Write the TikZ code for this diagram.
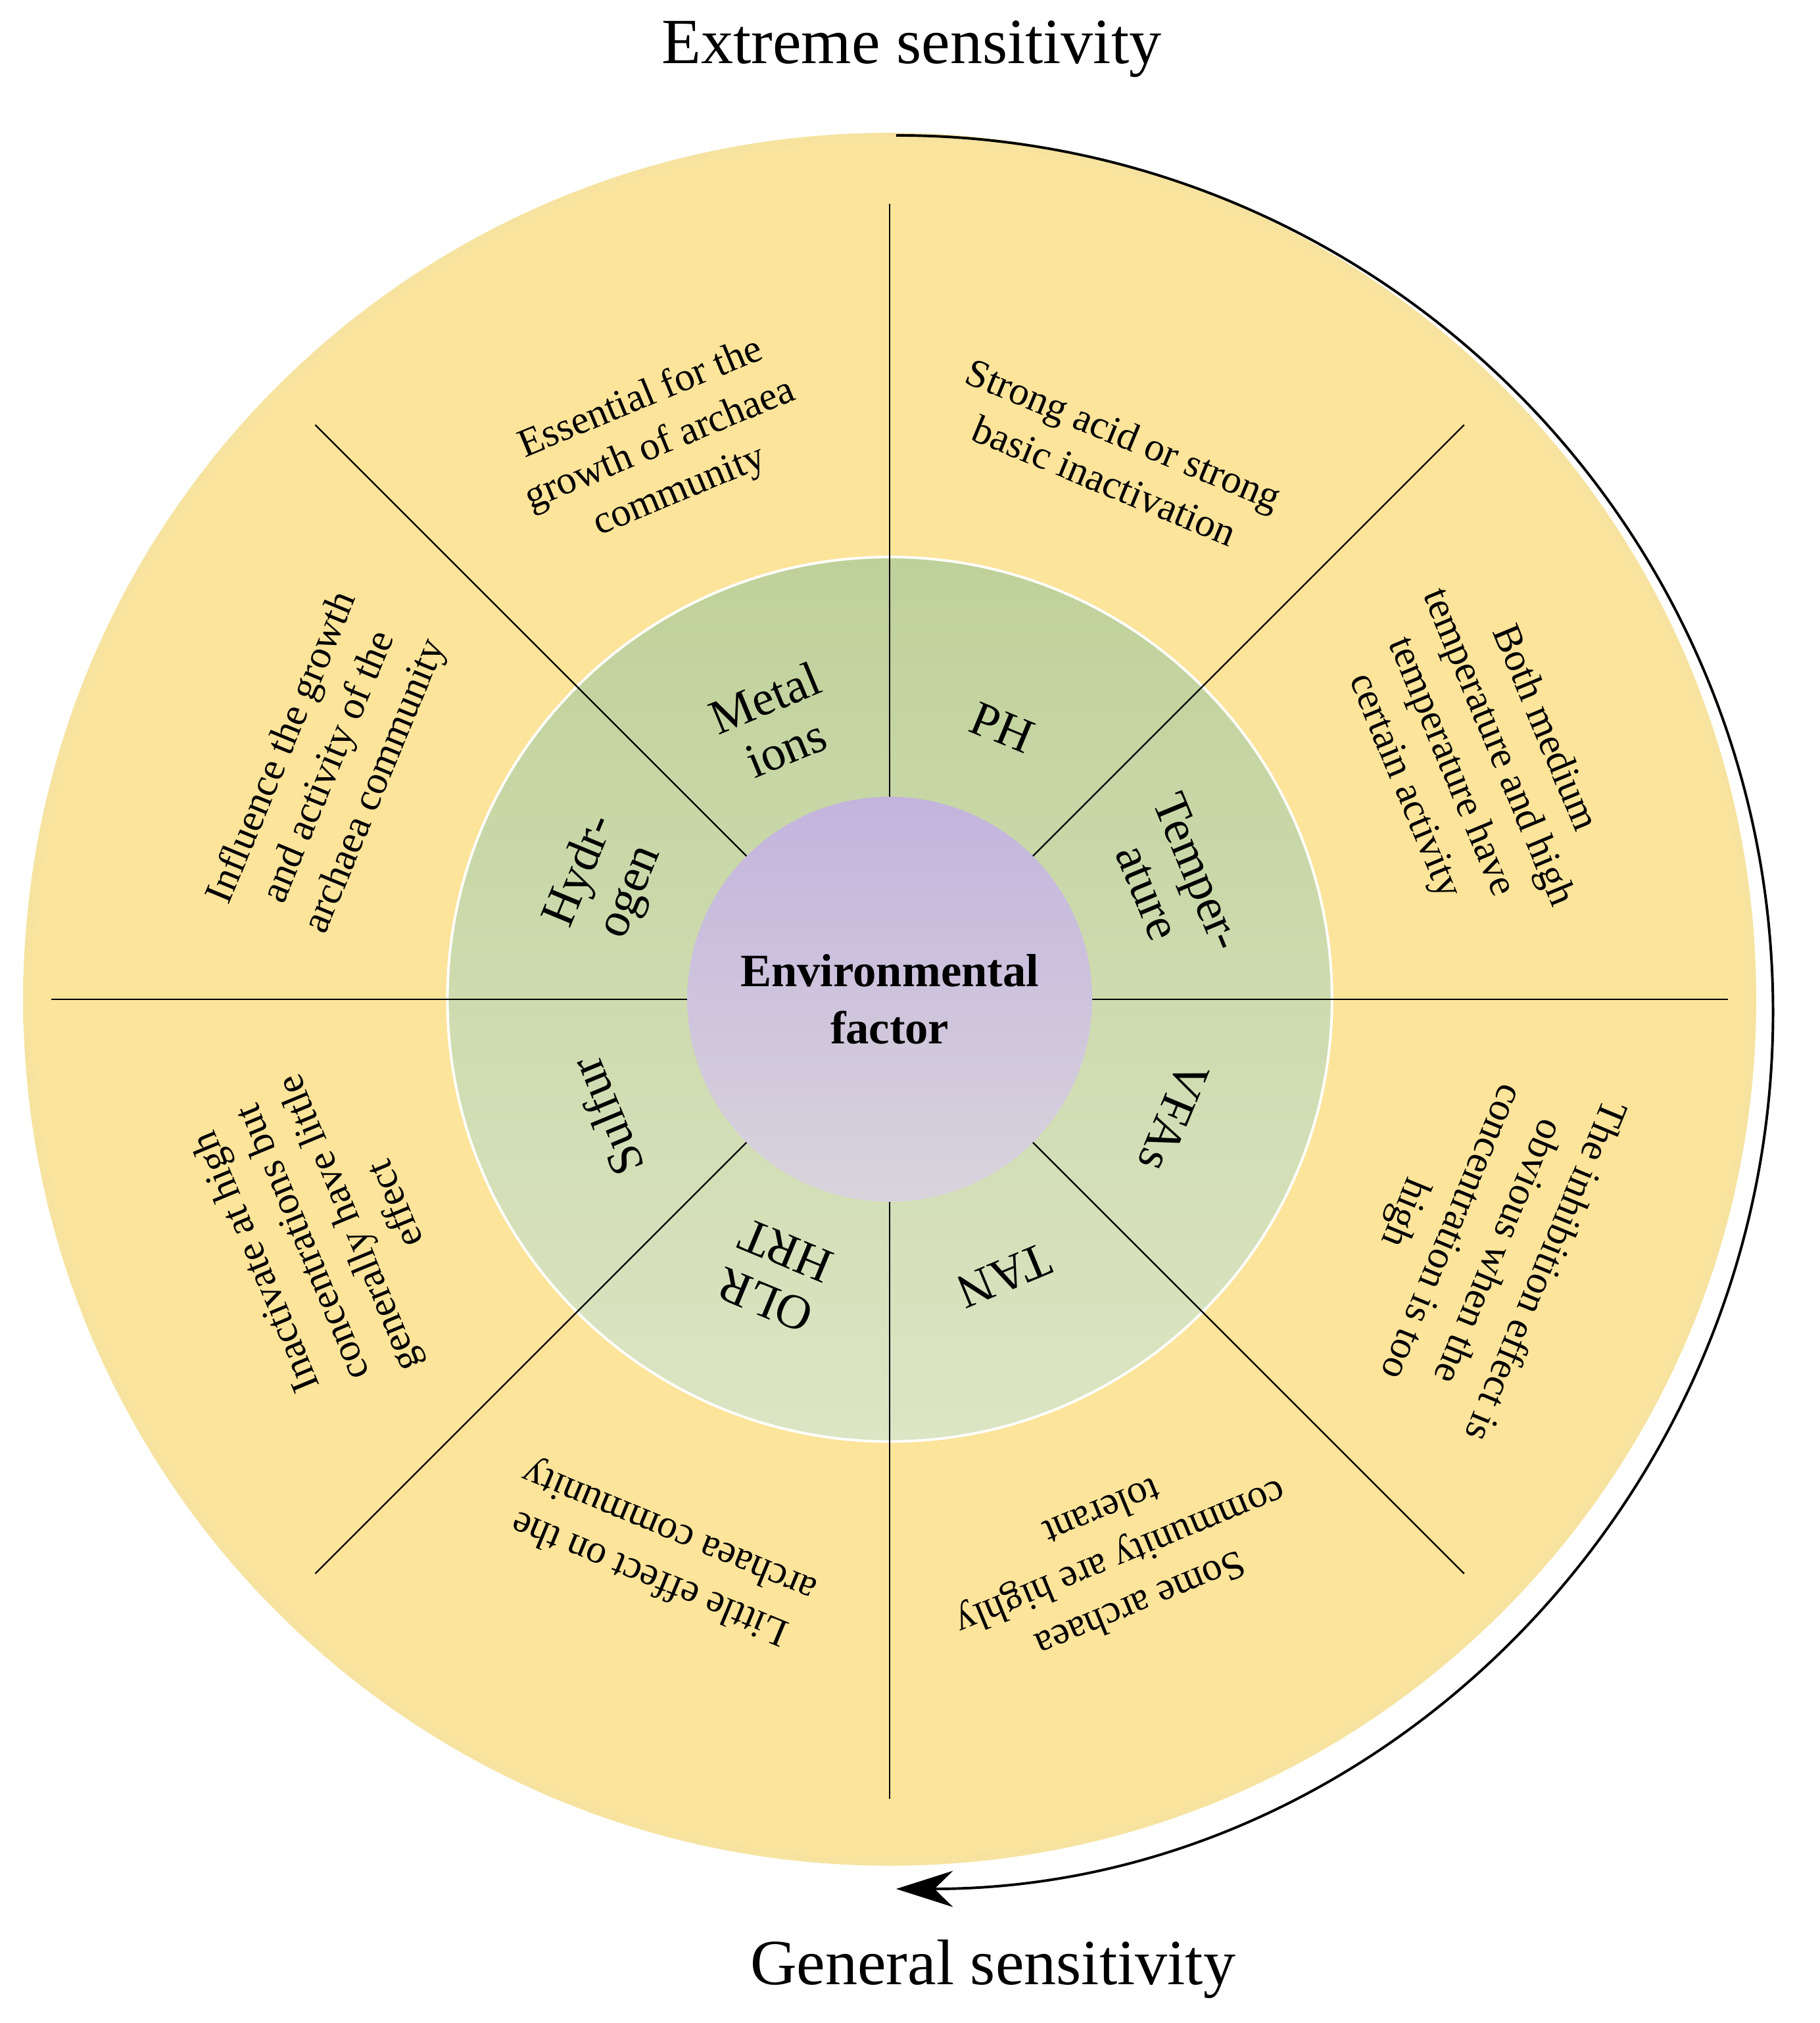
\documentclass[tikz,border=0pt]{standalone}
\usepackage{fontspec}
\setmainfont{Liberation Serif}
\usetikzlibrary{arrows.meta}
\definecolor{yel}{HTML}{FDE49B}
\definecolor{grn}{HTML}{D7E0B3}
\definecolor{grn2}{HTML}{DCE3BE}
\definecolor{mdark}{HTML}{BFD19A}
\definecolor{mlight}{HTML}{DCE5C4}
\definecolor{pdark}{HTML}{C3B4DD}
\definecolor{plight}{HTML}{D9D4DC}
\pgfdeclareradialshading{outerg}{\pgfpoint{0bp}{0bp}}{color(0bp)=(yel); color(24.5bp)=(yel); color(27bp)=(grn); color(28.5bp)=(grn2); color(50bp)=(grn2)}
\tikzset{
  div/.style={line width=0.6pt, black},
  midlab/.style={font=\fontsize{19}{21}\selectfont, align=center},
  outlab/.style={font=\fontsize{15.5}{19.5}\selectfont, align=center},
}
\begin{document}
\begin{tikzpicture}[x=0.5pt,y=0.5pt]
\useasboundingbox (-690,-794) rectangle (721,775);
\shade[shading=outerg] (0,0) circle (672);
\shade[shading angle=45, top color=mdark, bottom color=mlight, draw=white, line width=1pt] (0,0) circle (343);
% dividers
\foreach \a/\r in {90/617,45/630,0/650,-45/630,-90/620,-135/630,180/650,135/630}{
  \coordinate (s\a) at (\a:157);
  \coordinate (e\a) at (\a:\r);
  \draw[div] (s\a) -- (e\a);
}
\shade[shading angle=45, top color=pdark, bottom color=plight] (0,0) circle (157);
\node[font=\fontsize{18}{22}\selectfont\bfseries, align=center] (c) at (0,0) {Environmental\\factor};
% middle labels
\node[midlab, rotate=-22.5] (m1) at (67.5:228) {PH};
\node[midlab, rotate=-67.5] (m2) at (22.5:238) {Temper-\\ature};
\node[midlab, rotate=-112.5] (m3) at (-22.5:238) {VFAs};
\node[midlab, rotate=-157.5] (m4) at (-67.5:232) {TAN};
\node[midlab, rotate=157.5] (m5) at (-112.5:232) {OLR\\HRT};
\node[midlab, rotate=112.5] (m6) at (-157.5:238) {Sulfur};
\node[midlab, rotate=67.5] (m7) at (157.5:238) {Hydr-\\ogen};
\node[midlab, rotate=22.5] (m8) at (112.5:232) {Metal\\ions};
% outer labels
\node[outlab, rotate=-22.5] (o1) at (67.5:455) {Strong acid or strong\\basic inactivation};
\node[outlab, rotate=-67.5] (o2) at (22.5:490) {Both medium\\temperature and high\\temperature have\\certain activity};
\node[outlab, rotate=-112.5] (o3) at (-22.5:490) {The inhibition effect is\\obvious when the\\concentration is too\\high};
\node[outlab, rotate=-157.5] (o4) at (-67.5:470) {Some archaea\\community are highly\\tolerant};
\node[outlab, rotate=157.5] (o5) at (-112.5:465) {Little effect on the\\archaea community};
\node[outlab, rotate=112.5] (o6) at (-157.5:475) {Inactivate at high\\concentrations but\\generally have little\\effect};
\node[outlab, rotate=67.5] (o7) at (157.5:470) {Influence the growth\\and activity of the\\archaea community};
\node[outlab, rotate=22.5] (o8) at (112.5:465) {Essential for the\\growth of archaea\\community};
% arrow
\coordinate (at) at (5,670);
\draw[line width=1pt, -{Stealth[length=22pt,width=14pt]}] (at) arc[start angle=90, end angle=-90, radius=680];
\node[font=\fontsize{25}{28}\selectfont] (t1) at (17,737) {Extreme sensitivity};
\node[font=\fontsize{25}{28}\selectfont] (t2) at (80,-752) {General sensitivity};
\end{tikzpicture}
\end{document}
